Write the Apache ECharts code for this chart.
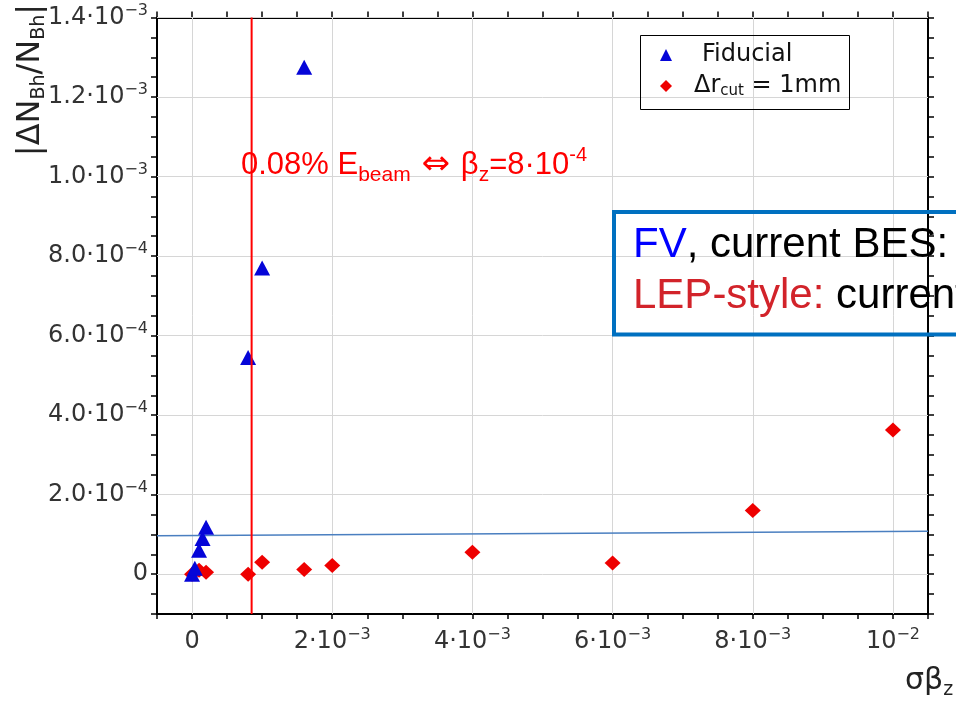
<!DOCTYPE html>
<html><head><meta charset="utf-8">
<script src="https://cdn.jsdelivr.net/npm/echarts@6/dist/echarts.min.js"></script>
<style>html,body{margin:0;padding:0;background:#fff}#c{width:956px;height:701px}</style>
</head><body><div id="c"></div>
<script>
// ---- data ----
const seriesNames = ['Fiducial', 'Δrcut = 1mm'];
const fiducialX = [0, 0.00004, 0.0001, 0.00015, 0.0002, 0.0008, 0.001, 0.0016];
const fiducialY = [0, 0.000015, 0.00006, 0.00009, 0.000118, 0.000545, 0.00077, 0.001275];
const rcutX = [0, 0.0001, 0.0002, 0.0008, 0.001, 0.0016, 0.002, 0.004, 0.006, 0.008, 0.01];
const rcutY = [0, 0.00001, 0.000005, 0, 0.00003, 0.000012, 0.000022, 0.000055, 0.000028, 0.00016, 0.000363];
const fitLineX = [-0.0005, 0.0105];
const fitLineY = [0.0000965, 0.000108];
const cutLineX = [0.00085, 0.00085];
const cutLineY = [-0.0001, 0.0014];
const xMin = -0.0005, xMax = 0.0105, xStep = 0.0005;
const yMin = -0.0001, yMax = 0.0014, yStep = 0.00005;
const xTickValues = [0, 0.002, 0.004, 0.006, 0.008, 0.01];
const xTickBase = ['0', '2·10', '4·10', '6·10', '8·10', '10'];
const xTickExp = ['', '−3', '−3', '−3', '−3', '−2'];
const yTickValues = [0, 0.0002, 0.0004, 0.0006, 0.0008, 0.001, 0.0012, 0.0014];
const yTickBase = ['0', '2.0·10', '4.0·10', '6.0·10', '8.0·10', '1.0·10', '1.2·10', '1.4·10'];
const yTickExp = ['', '−4', '−4', '−4', '−4', '−3', '−3', '−3'];

// ---- helpers ----
function zip(a, b) { return a.map((v, i) => [v, b[i]]); }
function fmtTick(vals, base, exp) {
  return function (v) {
    const i = vals.findIndex(t => Math.abs(t - v) < 1e-9);
    if (i < 0) return '';
    return exp[i] ? '{b|' + base[i] + '}{s|' + exp[i] + '}' : '{b|' + base[i] + '}';
  };
}
const labelFont = 'DejaVu Sans';
const tickRich = {
  b: { fontFamily: labelFont, fontSize: 24, lineHeight: 30, color: '#333' },
  s: { fontFamily: labelFont, fontSize: 16, lineHeight: 18, verticalAlign: 'top', color: '#333' }
};
const gridSegs = [];
xTickValues.forEach(v => gridSegs.push({ coords: [[v, yMin], [v, yMax]] }));
yTickValues.forEach(v => gridSegs.push({ coords: [[xMin, v], [xMax, v]] }));

const axLine = { show: true, onZero: false, lineStyle: { color: '#000', width: 2 } };
const axTick = { show: true, inside: false, length: 6, lineStyle: { color: '#000', width: 1.5 } };

const chart = echarts.init(document.getElementById('c'), null, { renderer: 'canvas' });
chart.setOption({
  animation: false,
  backgroundColor: '#fff',
  grid: { left: 157, right: 28, top: 17.5, bottom: 87, containLabel: false, outerBoundsMode: 'none' },
  xAxis: [
    { type: 'value', position: 'bottom', min: xMin, max: xMax, interval: xStep,
      axisLine: axLine, axisTick: Object.assign({}, axTick, { length: 5 }),
      axisLabel: { interval: 0, margin: 13, formatter: fmtTick(xTickValues, xTickBase, xTickExp), rich: tickRich },
      splitLine: { show: false } },
    { type: 'value', position: 'top', min: xMin, max: xMax, interval: xStep,
      axisLine: axLine, axisTick: axTick, axisLabel: { show: false }, splitLine: { show: false } }
  ],
  yAxis: [
    { type: 'value', position: 'left', min: yMin, max: yMax, interval: yStep,
      axisLine: axLine, axisTick: axTick,
      axisLabel: { margin: 9, formatter: fmtTick(yTickValues, yTickBase, yTickExp), rich: tickRich },
      splitLine: { show: false } },
    { type: 'value', position: 'right', min: yMin, max: yMax, interval: yStep,
      axisLine: axLine, axisTick: axTick, axisLabel: { show: false }, splitLine: { show: false } }
  ],
  legend: {
    show: true, orient: 'vertical', left: 640, top: 35, padding: [8, 20, 7, 20], itemGap: 7,
    itemWidth: 12, itemHeight: 12, selectedMode: false,
    data: [{ name: seriesNames[0], icon: 'triangle' }, { name: seriesNames[1], icon: 'diamond' }],
    formatter: function (name) {
      if (name === seriesNames[0]) return '{f|Fiducial}';
      return '{d|Δr}{s|cut}{e| = 1mm}';
    },
    textStyle: {
      rich: {
        f: { fontFamily: labelFont, fontSize: 24, lineHeight: 26, color: '#111', padding: [0, 0, 0, 25] },
        d: { fontFamily: labelFont, fontSize: 24, lineHeight: 26, color: '#111', padding: [0, 0, 0, 17] },
        e: { fontFamily: labelFont, fontSize: 24, lineHeight: 26, color: '#111' },
        s: { fontFamily: labelFont, fontSize: 15, lineHeight: 13, verticalAlign: 'bottom', color: '#111' }
      }
    }
  },
  graphic: [
    { type: 'rect', shape: { x: 640.5, y: 35.5, width: 209, height: 74 },
      style: { fill: 'none', stroke: '#000', lineWidth: 1 }, z: 10 },
    { type: 'rect', shape: { x: 614, y: 212, width: 360, height: 122.5 },
      style: { fill: 'none', stroke: '#0070c0', lineWidth: 4 }, z: 10 },
    { type: 'text', x: 633, y: 245.8, z: 10,
      style: { text: '{fv|FV}{k|, current BES:}', textAlign: 'left', verticalAlign: 'middle',
        rich: { fv: { fontFamily: 'Liberation Sans', fontSize: 42, fill: '#0000ff' },
                k: { fontFamily: 'Liberation Sans', fontSize: 42, fill: '#000' } } } },
    { type: 'text', x: 633, y: 296.8, z: 10,
      style: { text: '{r|LEP-style:}{k| current}', textAlign: 'left', verticalAlign: 'middle',
        rich: { r: { fontFamily: 'Liberation Sans', fontSize: 42, fill: '#d2232a' },
                k: { fontFamily: 'Liberation Sans', fontSize: 42, fill: '#000' } } } },
    { type: 'text', x: 241, y: 165.6, z: 10,
      style: { text: '{m|0.08% E}{sub|beam}{a| ⇔ }{m|β}{sub|z}{m|=8·10}{sup|-4}', textAlign: 'left', verticalAlign: 'middle',
        rich: {
          m: { fontFamily: 'Liberation Sans', fontSize: 31, lineHeight: 40, fill: '#ff0000' },
          a: { fontFamily: 'DejaVu Sans', fontSize: 34, lineHeight: 40, fill: '#ff0000' },
          sub: { fontFamily: 'Liberation Sans', fontSize: 21, lineHeight: 20, verticalAlign: 'bottom', fill: '#ff0000' },
          sup: { fontFamily: 'Liberation Sans', fontSize: 20, lineHeight: 30, verticalAlign: 'top', fill: '#ff0000' }
        } } },
    { type: 'text', x: 30.6, y: 80, rotation: Math.PI / 2, z: 10,
      style: { text: '{m||ΔN}{s|Bh}{m|/N}{s|Bh}{m||}', textAlign: 'center', verticalAlign: 'middle',
        rich: {
          m: { fontFamily: labelFont, fontSize: 32, lineHeight: 35, fill: '#222' },
          s: { fontFamily: labelFont, fontSize: 19, lineHeight: 19, verticalAlign: 'bottom', fill: '#222' }
        } } },
    { type: 'text', x: 905, y: 681.3, z: 10,
      style: { text: '{m|σβ}{s|z}', textAlign: 'left', verticalAlign: 'middle',
        rich: {
          m: { fontFamily: labelFont, fontSize: 30, lineHeight: 36, fill: '#222' },
          s: { fontFamily: labelFont, fontSize: 19, lineHeight: 19, verticalAlign: 'bottom', fill: '#222' }
        } } }
  ],
  series: [
    { name: 'grid', type: 'lines', coordinateSystem: 'cartesian2d', polyline: false, silent: true, z: 1,
      data: gridSegs, effect: { show: false },
      lineStyle: { color: '#d6d6d6', width: 1, opacity: 1, curveness: 0 } },
    { name: 'fit', type: 'line', data: zip(fitLineX, fitLineY), showSymbol: false, silent: true, z: 3,
      lineStyle: { color: '#4a7fc0', width: 1.5 } },
    { name: seriesNames[1], type: 'scatter', data: zip(rcutX, rcutY), symbol: 'diamond', symbolSize: [16, 15], z: 2,
      itemStyle: { color: '#ee0000', opacity: 1 } },
    { name: seriesNames[0], type: 'scatter', data: zip(fiducialX, fiducialY), symbol: 'triangle', symbolSize: [16, 15], z: 3,
      itemStyle: { color: '#0505d8', opacity: 1 } },
    { name: 'cut', type: 'line', data: zip(cutLineX, cutLineY), showSymbol: false, silent: true, z: 4,
      lineStyle: { color: '#ff0000', width: 2 } }
  ]
});
</script></body></html>
